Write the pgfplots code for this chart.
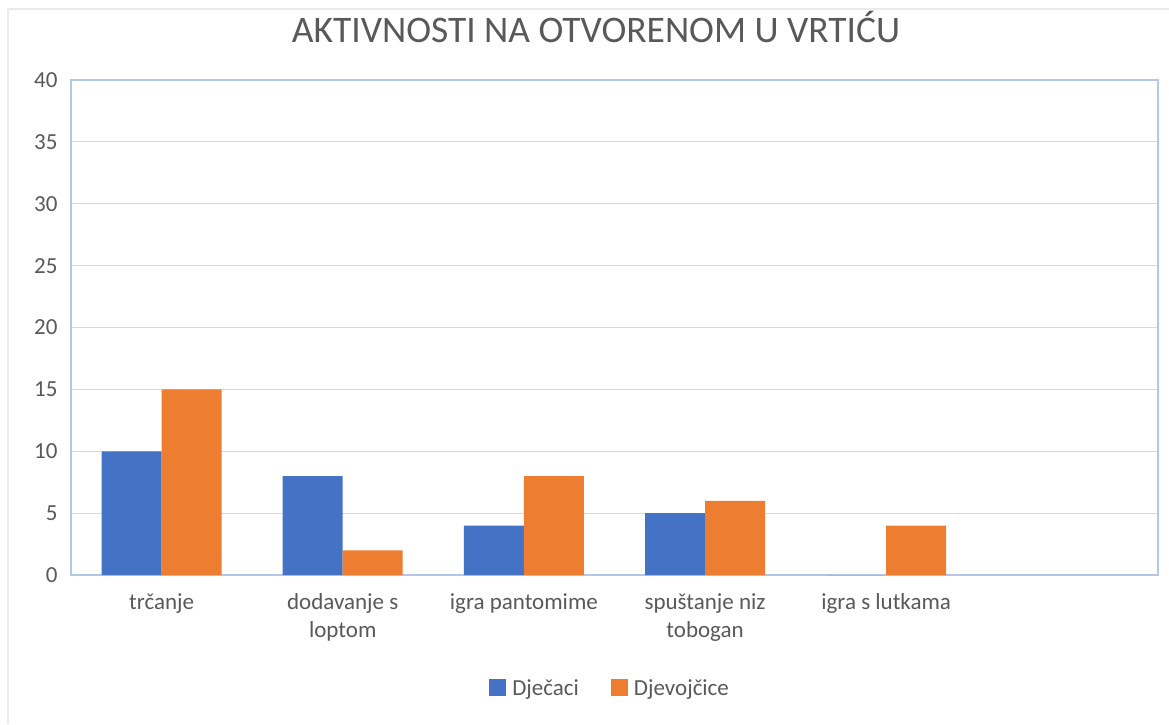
\documentclass[border=0pt]{standalone}
\usepackage{fontspec}
\setmainfont{Carlito}
\usepackage{pgfplots}
\pgfplotsset{compat=1.18}
\definecolor{blueb}{HTML}{4472C4}
\definecolor{orangeb}{HTML}{ED7D31}
\definecolor{txt}{HTML}{595959}
\definecolor{gridc}{HTML}{D9D9D9}
\definecolor{framec}{HTML}{B4C7E7}
\definecolor{outerc}{HTML}{EBEBEB}
\begin{document}
\begin{tikzpicture}[x=1pt,y=1pt]
\path[use as bounding box] (0,0) rectangle (1169,724);
\fill[white] (0,0) rectangle (1169,724);
\draw[outerc, line width=2pt] (8,0) -- (8,715) -- (1169,715);
\node[anchor=base, text=txt, font=\fontsize{37.5}{42}\selectfont] at (596,681) {AKTIVNOSTI NA OTVORENOM U VRTIĆU};
\begin{axis}[
  at={(71pt,149pt)}, anchor=south west,
  scale only axis, width=1087pt, height=495pt,
  ybar=0pt, bar width=60pt,
  xmin=-0.5, xmax=5.5, ymin=0, ymax=40,
  xtick={0,1,2,3,4},
  xticklabels={trčanje,{dodavanje s\\loptom},igra pantomime,{spuštanje niz\\tobogan},igra s lutkama},
  ytick={0,5,...,40},
  major tick length=0pt,
  ymajorgrids, grid style={gridc, line width=1.2pt},
  axis line style={framec, line width=1.5pt},
  /pgf/number format/assume math mode=true,
  x tick label style={align=center, font=\fontsize{23}{28}\selectfont, text=txt, yshift=-15pt},
  y tick label style={font=\fontsize{23}{26}\selectfont, text=txt, xshift=-10pt},
  legend columns=2,
  legend style={at={(0.496,-0.228)}, anchor=center, draw=none, fill=none,
    font=\fontsize{23}{26}\selectfont, text=txt,
    /tikz/every odd column/.append style={column sep=4pt},
    /tikz/every even column/.append style={column sep=30pt}},
  legend image code/.code={\path[#1, draw=none] (0pt,-8.5pt) rectangle (17pt,8.5pt);},
]
\addplot[fill=blueb, draw=none] coordinates {(0,10) (1,8) (2,4) (3,5) (4,0)};
\addplot[fill=orangeb, draw=none] coordinates {(0,15) (1,2) (2,8) (3,6) (4,4)};
\legend{Dječaci, Djevojčice}
\end{axis}
\end{tikzpicture}
\end{document}
